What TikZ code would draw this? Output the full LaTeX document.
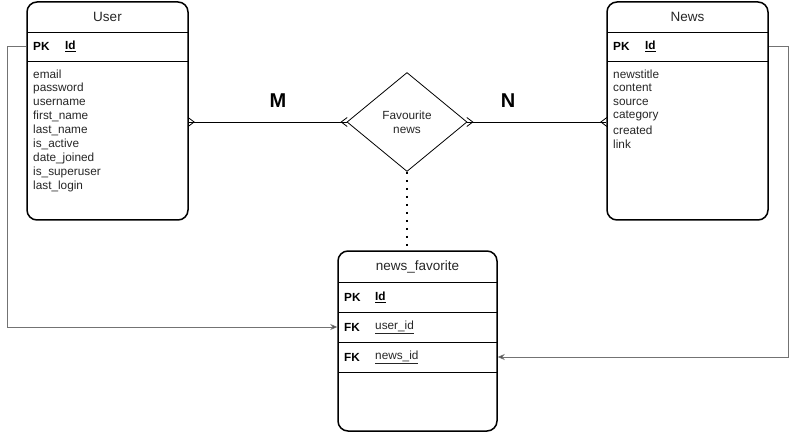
\documentclass[tikz,border=0pt]{standalone}
\usepackage{fontspec}
\setmainfont{Liberation Sans}
\usetikzlibrary{arrows.meta,shapes.geometric}
\begin{document}
\begin{tikzpicture}[x=1pt,y=-1pt,
	tablebox/.style={draw,line width=1.5pt,rounded corners=10pt,minimum width=161pt},
	attr/.style={anchor=west,inner sep=0pt,font=\fontsize{11.8}{13}\selectfont,text=black!85},
	keyname/.style={anchor=west,inner sep=0pt,font=\fontsize{11.8}{13}\selectfont\bfseries},
	titletext/.style={font=\fontsize{13.5}{15}\selectfont,text=black!85},
	fkline/.style={draw=black!55,line width=0.8pt,-{Stealth[length=7pt,width=6pt,fill=black]}},
	many/.style={line width=0.8pt,{Straight Barb[reversed,length=6pt,width=9pt]}-{Straight Barb[reversed,length=6pt,width=9pt]},shorten <=-1pt,shorten >=-1pt}
	]
	\useasboundingbox (0,0) rectangle (796,433);
	%tabelle user
	\node[tablebox,minimum height=218pt] (user) at (107.5,111) {};
	\node[titletext] (usertitle) at (107.5,17) {User};
	\foreach \y in {32,61}{
		\draw[line width=0.8pt] (27,\y) -- (188,\y);
	}
	\node[keyname] (userpk) at (33,46) {PK};
	\node[keyname] (userid) at (65,46) {\underline{Id}};
	\foreach \a [count=\i] in {email,password,username,first\_name,last\_name,is\_active,date\_joined,is\_superuser,last\_login}{
		\node[attr] (user-\i) at (33,60+14*\i) {\a};
	}
	%tabelle news
	\node[tablebox,minimum height=218pt] (news) at (687.5,111) {};
	\node[titletext] (newstitle) at (687.5,17) {News};
	\foreach \y in {32,61}{
		\draw[line width=0.8pt] (607,\y) -- (768,\y);
	}
	\node[keyname] (newspk) at (613,46) {PK};
	\node[keyname] (newsid) at (645,46) {\underline{Id}};
	\foreach \a [count=\i] in {newstitle,content,source,category,created,link}{
		\node[attr] (news-\i) at (613,60+14*\i) {\a};
	}
	%beziehung
	\node[diamond,draw,line width=0.8pt,inner sep=0pt,minimum width=120pt,minimum height=99pt,align=center,font=\fontsize{11.8}{14}\selectfont,text=black!85] (fav) at (407,122) {Favourite\\news};
	\draw[line width=0.8pt] (user.east |- fav.west) -- (fav.west);
	\draw[many] (user.east |- fav.west) -- (fav.west);
	\draw[line width=0.8pt] (fav.east) -- (news.west |- fav.east);
	\draw[many] (fav.east) -- (news.west |- fav.east);
	\node[font=\fontsize{20}{22}\selectfont\bfseries] (mlabel) at (278,101) {M};
	\node[font=\fontsize{20}{22}\selectfont\bfseries] (nlabel) at (508,101) {N};
	%tabelle news_favorite
	\node[tablebox,minimum width=159pt,minimum height=180pt] (newsfav) at (417.5,341) {};
	\node[titletext] (newsfavtitle) at (417.5,267) {news\_favorite};
	\foreach \y in {282,312,342,372}{
		\draw[line width=0.8pt] (338,\y) -- (497,\y);
	}
	\node[keyname] (favpk) at (344,297) {PK};
	\node[keyname] (favid) at (375,297) {\underline{Id}};
	\node[keyname] (fkuser) at (344,327) {FK};
	\node[attr] (fkuserid) at (375,327) {\underline{user\_id}};
	\node[keyname] (fknews) at (344,357) {FK};
	\node[attr] (fknewsid) at (375,357) {\underline{news\_id}};
	\draw[line width=2pt,dash pattern=on 2pt off 6pt] (fav.south) -- (fav.south |- newsfav.north);
	%fremdschluessel
	\draw[fkline] (user.west |- userpk) -- ++(-19,0) |- (newsfav.west |- fkuser);
	\draw[fkline] (news.east |- newspk) -- ++(20,0) |- (newsfav.east |- fknews);
\end{tikzpicture}
\end{document}
